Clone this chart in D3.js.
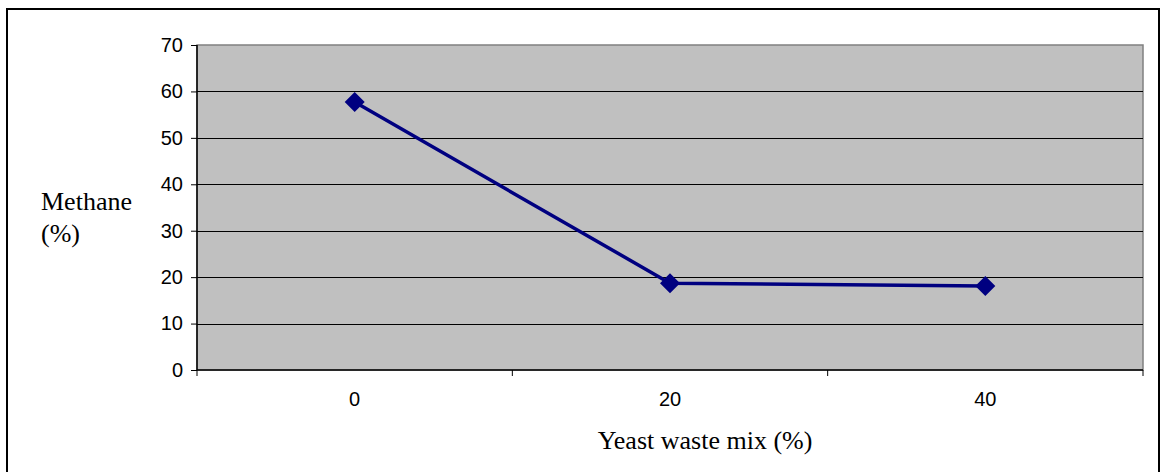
<!DOCTYPE html>
<html>
<head>
<meta charset="utf-8">
<script src="https://cdn.jsdelivr.net/npm/d3@7"></script>
<style>
  body{margin:0;background:#fff;}
  svg{display:block;}
  .tick text{font-family:Arial,"Liberation Sans",sans-serif;}
</style>
</head>
<body>
<svg id="chart"></svg>
<script>
// data
var mixes=["0","20","40"];
var methane=[57.7,18.7,18.1];
var yTicks=[0,10,20,30,40,50,60,70];

var drawChart=function(w,h)
{
  var svg=d3.select("#chart")
            .attr("width",w)
            .attr("height",h);

  // outer frame, bottom runs off the picture
  svg.append("rect")
     .attr("x",7).attr("y",9)
     .attr("width",1152).attr("height",h+20)
     .attr("fill","#fff")
     .attr("stroke","#000")
     .attr("stroke-width",2);

  var plot={left:197,top:45,right:1143,bottom:370};

  var xScale=d3.scaleBand()
               .domain(mixes)
               .range([plot.left,plot.right]);
  var yScale=d3.scaleLinear()
               .domain([0,70])
               .range([plot.bottom,plot.top]);

  // grey plot area
  svg.append("rect")
     .attr("x",plot.left).attr("y",plot.top)
     .attr("width",plot.right-plot.left)
     .attr("height",plot.bottom-plot.top)
     .attr("fill","#c0c0c0")
     .attr("stroke","#808080")
     .attr("stroke-width",1.5);

  // gridlines
  svg.append("g").selectAll("line")
     .data(yTicks.filter(function(d){return d>0&&d<70;}))
     .enter().append("line")
     .attr("x1",plot.left).attr("x2",plot.right)
     .attr("y1",function(d){return Math.round(yScale(d))+0.5;})
     .attr("y2",function(d){return Math.round(yScale(d))+0.5;})
     .attr("stroke","#000")
     .attr("stroke-width",1);

  // y axis
  var yAxis=d3.axisLeft(yScale)
              .tickValues(yTicks)
              .tickSize(6)
              .tickPadding(8);
  var yg=svg.append("g")
     .attr("transform","translate("+plot.left+",0)")
     .call(yAxis);
  yg.select(".domain").attr("stroke","#000").attr("stroke-width",1.5).attr("d","M0,"+plot.top+"V"+plot.bottom);
  yg.selectAll(".tick line").attr("stroke","#000");
  yg.selectAll(".tick text").attr("font-size",20).attr("fill","#000");

  // x axis: ticks sit between categories
  var xAxis=d3.axisBottom(xScale)
              .tickSize(0)
              .tickPadding(22);
  var xg=svg.append("g")
     .attr("transform","translate(0,"+plot.bottom+")")
     .call(xAxis);
  xg.select(".domain").attr("stroke","#000").attr("stroke-width",1.5).attr("d","M"+plot.left+",0H"+plot.right);
  xg.selectAll(".tick text").attr("font-size",20).attr("fill","#000");

  var edges=mixes.map(function(m){return xScale(m);}).concat([plot.right]);
  xg.selectAll("line.sep")
    .data(edges)
    .enter().append("line")
    .classed("sep",true)
    .attr("x1",function(d){return d;}).attr("x2",function(d){return d;})
    .attr("y1",0).attr("y2",6)
    .attr("stroke","#000");

  // the line
  var line=d3.line()
             .x(function(d,i){return xScale(mixes[i])+xScale.bandwidth()/2;})
             .y(function(d){return yScale(d);});
  svg.append("path")
     .datum(methane)
     .attr("d",line)
     .attr("fill","none")
     .attr("stroke","#000080")
     .attr("stroke-width",3.5);

  svg.append("g").selectAll("path")
     .data(methane)
     .enter().append("path")
     .attr("transform",function(d,i){
       return "translate("+(xScale(mixes[i])+xScale.bandwidth()/2)+","+yScale(d)+")";})
     .attr("d","M0,-10L10,0L0,10L-10,0Z")
     .attr("fill","#000080");

  // axis titles
  var serif='"Liberation Serif","Times New Roman",serif';
  svg.append("text")
     .attr("x",41).attr("y",210)
     .attr("font-family",serif).attr("font-size",26)
     .text("Methane");
  svg.append("text")
     .attr("x",41).attr("y",242)
     .attr("font-family",serif).attr("font-size",26)
     .text("(%)");
  svg.append("text")
     .attr("x",705).attr("y",449)
     .attr("text-anchor","middle")
     .attr("font-family",serif).attr("font-size",26)
     .text("Yeast waste mix (%)");
};

drawChart(1161,472);
</script>
</body>
</html>
